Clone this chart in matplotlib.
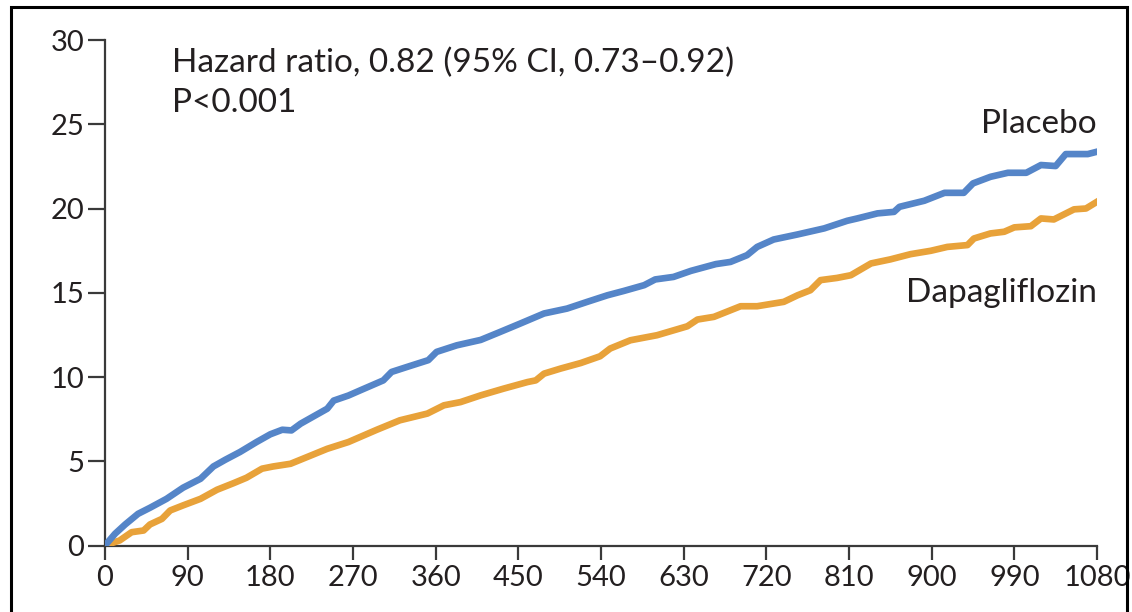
import matplotlib.pyplot as plt
from matplotlib.patches import Rectangle

plt.rcParams['font.family'] = ['Lato', 'DejaVu Sans']

# Cumulative incidence (%)
placebo_days = [0, 11, 22, 36, 49, 67, 85, 104, 118, 131, 147, 165, 180, 193, 203, 213,
                227, 242, 249, 265, 278, 303, 312, 329, 352, 361, 383, 409, 430, 452, 478,
                503, 525, 547, 565, 587, 599, 619, 638, 665, 681, 699, 710, 728, 754, 783,
                808, 819, 841, 859, 865, 892, 914, 935, 945, 964, 983, 1003, 1019, 1035,
                1046, 1070, 1080]
placebo_pct = [0, 0.7, 1.25, 1.88, 2.24, 2.77, 3.43, 3.96, 4.69, 5.09, 5.55, 6.14, 6.6, 6.87,
               6.83, 7.23, 7.66, 8.12, 8.6, 8.9, 9.21, 9.8, 10.3, 10.6, 11.0, 11.49, 11.88,
               12.2, 12.67, 13.17, 13.77, 14.06, 14.46, 14.85, 15.11, 15.45, 15.79, 15.94,
               16.3, 16.7, 16.83, 17.23, 17.72, 18.16, 18.46, 18.82, 19.27, 19.41, 19.71,
               19.8, 20.1, 20.46, 20.93, 20.93, 21.49, 21.88, 22.12, 22.12, 22.58, 22.52,
               23.23, 23.23, 23.37]

dapa_days = [0, 16, 29, 42, 49, 62, 71, 85, 104, 122, 140, 154, 171, 183, 202, 220, 242,
             265, 296, 321, 351, 369, 387, 409, 434, 460, 469, 478, 496, 518, 539, 550, 572,
             601, 634, 645, 663, 692, 710, 739, 754, 768, 779, 797, 812, 834, 855, 877, 899,
             917, 939, 946, 964, 979, 990, 1008, 1019, 1033, 1055, 1068, 1080]
dapa_pct = [0, 0.3, 0.79, 0.89, 1.25, 1.58, 2.08, 2.38, 2.77, 3.31, 3.7, 4.02, 4.56, 4.69,
            4.85, 5.25, 5.74, 6.14, 6.87, 7.43, 7.83, 8.32, 8.51, 8.91, 9.31, 9.7, 9.8, 10.2,
            10.5, 10.83, 11.23, 11.69, 12.18, 12.48, 13.01, 13.41, 13.57, 14.2, 14.2, 14.46,
            14.85, 15.15, 15.75, 15.88, 16.04, 16.74, 16.98, 17.29, 17.49, 17.72, 17.83,
            18.22, 18.52, 18.62, 18.88, 18.95, 19.41, 19.35, 19.95, 20.0, 20.4]

x_ticks = list(range(0, 1081, 90))
y_ticks = [0, 5, 10, 15, 20, 25, 30]

blue = '#5585c8'
orange = '#e8a23a'
axis_col = '#3a3a3a'
text_col = '#231f20'

fig = plt.figure(figsize=(11.32, 6.12), dpi=100)
ax = fig.add_axes([105 / 1132, 1 - 545.5 / 612, 992 / 1132, 505.5 / 612])

ax.plot(dapa_days, dapa_pct, color=orange, lw=4.8, solid_joinstyle='round', zorder=3)
ax.plot(placebo_days, placebo_pct, color=blue, lw=4.8, solid_joinstyle='round', zorder=4)

ax.set_xlim(0, 1080)
ax.set_ylim(0, 30)
ax.set_xticks(x_ticks)
ax.set_yticks(y_ticks)
ax.spines['top'].set_visible(False)
ax.spines['right'].set_visible(False)
for s in ['left', 'bottom']:
    ax.spines[s].set_color(axis_col)
    ax.spines[s].set_linewidth(1.6)
ax.tick_params(axis='both', colors=axis_col, width=1.6, labelsize=21,
               labelcolor=text_col, direction='out')
ax.tick_params(axis='y', length=12, pad=3)
ax.tick_params(axis='x', length=10, pad=4)

ax.text(73, 28.1, 'Hazard ratio, 0.82 (95% CI, 0.73\u20130.92)', fontsize=24,
        color=text_col, ha='left', va='baseline')
ax.text(73, 25.7, 'P<0.001', fontsize=24, color=text_col, ha='left', va='baseline')
ax.text(1080, 24.5, 'Placebo', fontsize=24, color=text_col, ha='right', va='baseline')
ax.text(1080, 14.45, 'Dapagliflozin', fontsize=24, color=text_col, ha='right', va='baseline')

# frame around the figure
fig.patches.append(Rectangle((11 / 1132, -0.05), 1116 / 1132, 1.05 - 7 / 612,
                             transform=fig.transFigure, fill=False,
                             edgecolor='black', lw=2.2))

fig.savefig('out.png', dpi=100)
